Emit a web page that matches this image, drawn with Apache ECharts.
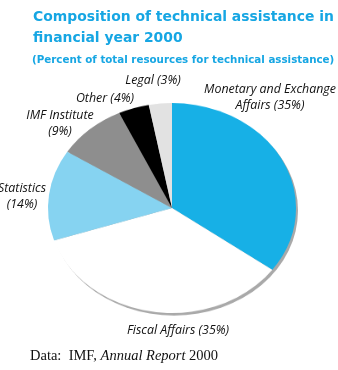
<!DOCTYPE html>
<html><head><meta charset="utf-8">
<script src="https://cdn.jsdelivr.net/npm/echarts@6/dist/echarts.min.js"></script>
<style>
html,body{margin:0;padding:0;background:#fff;}
#wrap{position:relative;width:338px;height:370px;overflow:hidden;background:#fff}
#pie{position:absolute;left:0;top:0;width:338px;height:370px;transform:scaleY(0.847);transform-origin:172px 208px;}
#txt{position:absolute;left:0;top:0;width:338px;height:370px;}
</style></head>
<body><div id="wrap"><div id="pie"></div><div id="txt"></div></div>
<script>
const categories = ['Monetary and Exchange Affairs', 'Fiscal Affairs', 'Statistics', 'IMF Institute', 'Other', 'Legal'];
const shares = [35, 35, 14, 9, 4, 3];
const sliceColors = ['#17b0e6', '#ffffff', '#86d3f1', '#8e8e8e', '#000000', '#e2e2e2'];
const titleLines = ['Composition of technical assistance in', 'financial year 2000'];
const subtitle = '(Percent of total resources for technical assistance)';
const sourcePre = 'Data:  IMF, ';
const sourceItalic = 'Annual Report';
const sourcePost = ' 2000';

// label text: name (value%), with line break where the reference wraps
const breakAt = {'Monetary and Exchange Affairs': 'Monetary and Exchange\nAffairs', 'IMF Institute': 'IMF Institute\n', 'Statistics': 'Statistics\n'};
function labelText(i) {
  const n = categories[i];
  const b = breakAt[n];
  if (b) return b.endsWith('\n') ? b + '(' + shares[i] + '%)' : b + ' (' + shares[i] + '%)';
  return n + ' (' + shares[i] + '%)';
}
// label anchor positions (text layout only)
const labelPos = [[270, 97], [178, 330], [22, 196], [60, 123], [105, 98], [153, 80]];

const pie = echarts.init(document.getElementById('pie'), null, {renderer: 'canvas'});
pie.setOption({
  animation: false,
  backgroundColor: 'transparent',
  series: [
    {
      type: 'pie', silent: true, center: [174, 211], radius: 124,
      label: {show: false}, labelLine: {show: false},
      data: [{value: 1, itemStyle: {color: '#a9a9a9'}}], z: 1
    },
    {
      type: 'pie', center: [172, 208], radius: 124, startAngle: 90, clockwise: true,
      label: {show: false}, labelLine: {show: false}, z: 2,
      itemStyle: {borderWidth: 0},
      data: categories.map((c, i) => ({name: c, value: shares[i], itemStyle: {color: sliceColors[i]}}))
    }
  ]
});

const txt = echarts.init(document.getElementById('txt'), null, {renderer: 'canvas'});
const labelFont = '"Open Sans", sans-serif';
const titleFont = '"DejaVu Sans", sans-serif';
const graphics = [
  {type: 'text', x: 33, y: 17, style: {text: titleLines[0], font: 'bold 13.9px ' + titleFont, fill: '#16a6e3', verticalAlign: 'middle'}},
  {type: 'text', x: 33, y: 38, style: {text: titleLines[1], font: 'bold 13.9px ' + titleFont, fill: '#16a6e3', verticalAlign: 'middle'}},
  {type: 'text', x: 32, y: 60, style: {text: subtitle, font: 'bold 10.3px ' + titleFont, fill: '#16a6e3', verticalAlign: 'middle'}}
];
categories.forEach((c, i) => {
  graphics.push({
    type: 'text', x: labelPos[i][0], y: labelPos[i][1],
    style: {text: labelText(i), font: 'italic 12.4px ' + labelFont, fill: '#111', align: 'center', verticalAlign: 'middle', lineHeight: 16}
  });
});
graphics.push({
  type: 'text', x: 30, y: 356,
  style: {
    text: '{a|' + sourcePre + '}{b|' + sourceItalic + '}{a|' + sourcePost + '}',
    verticalAlign: 'middle',
    rich: {
      a: {font: '14.5px "Liberation Serif", "DejaVu Serif", serif', fill: '#111'},
      b: {font: 'italic 14.5px "Liberation Serif", "DejaVu Serif", serif', fill: '#111'}
    }
  }
});
txt.setOption({animation: false, backgroundColor: 'transparent', graphic: graphics});
</script>
</body></html>
